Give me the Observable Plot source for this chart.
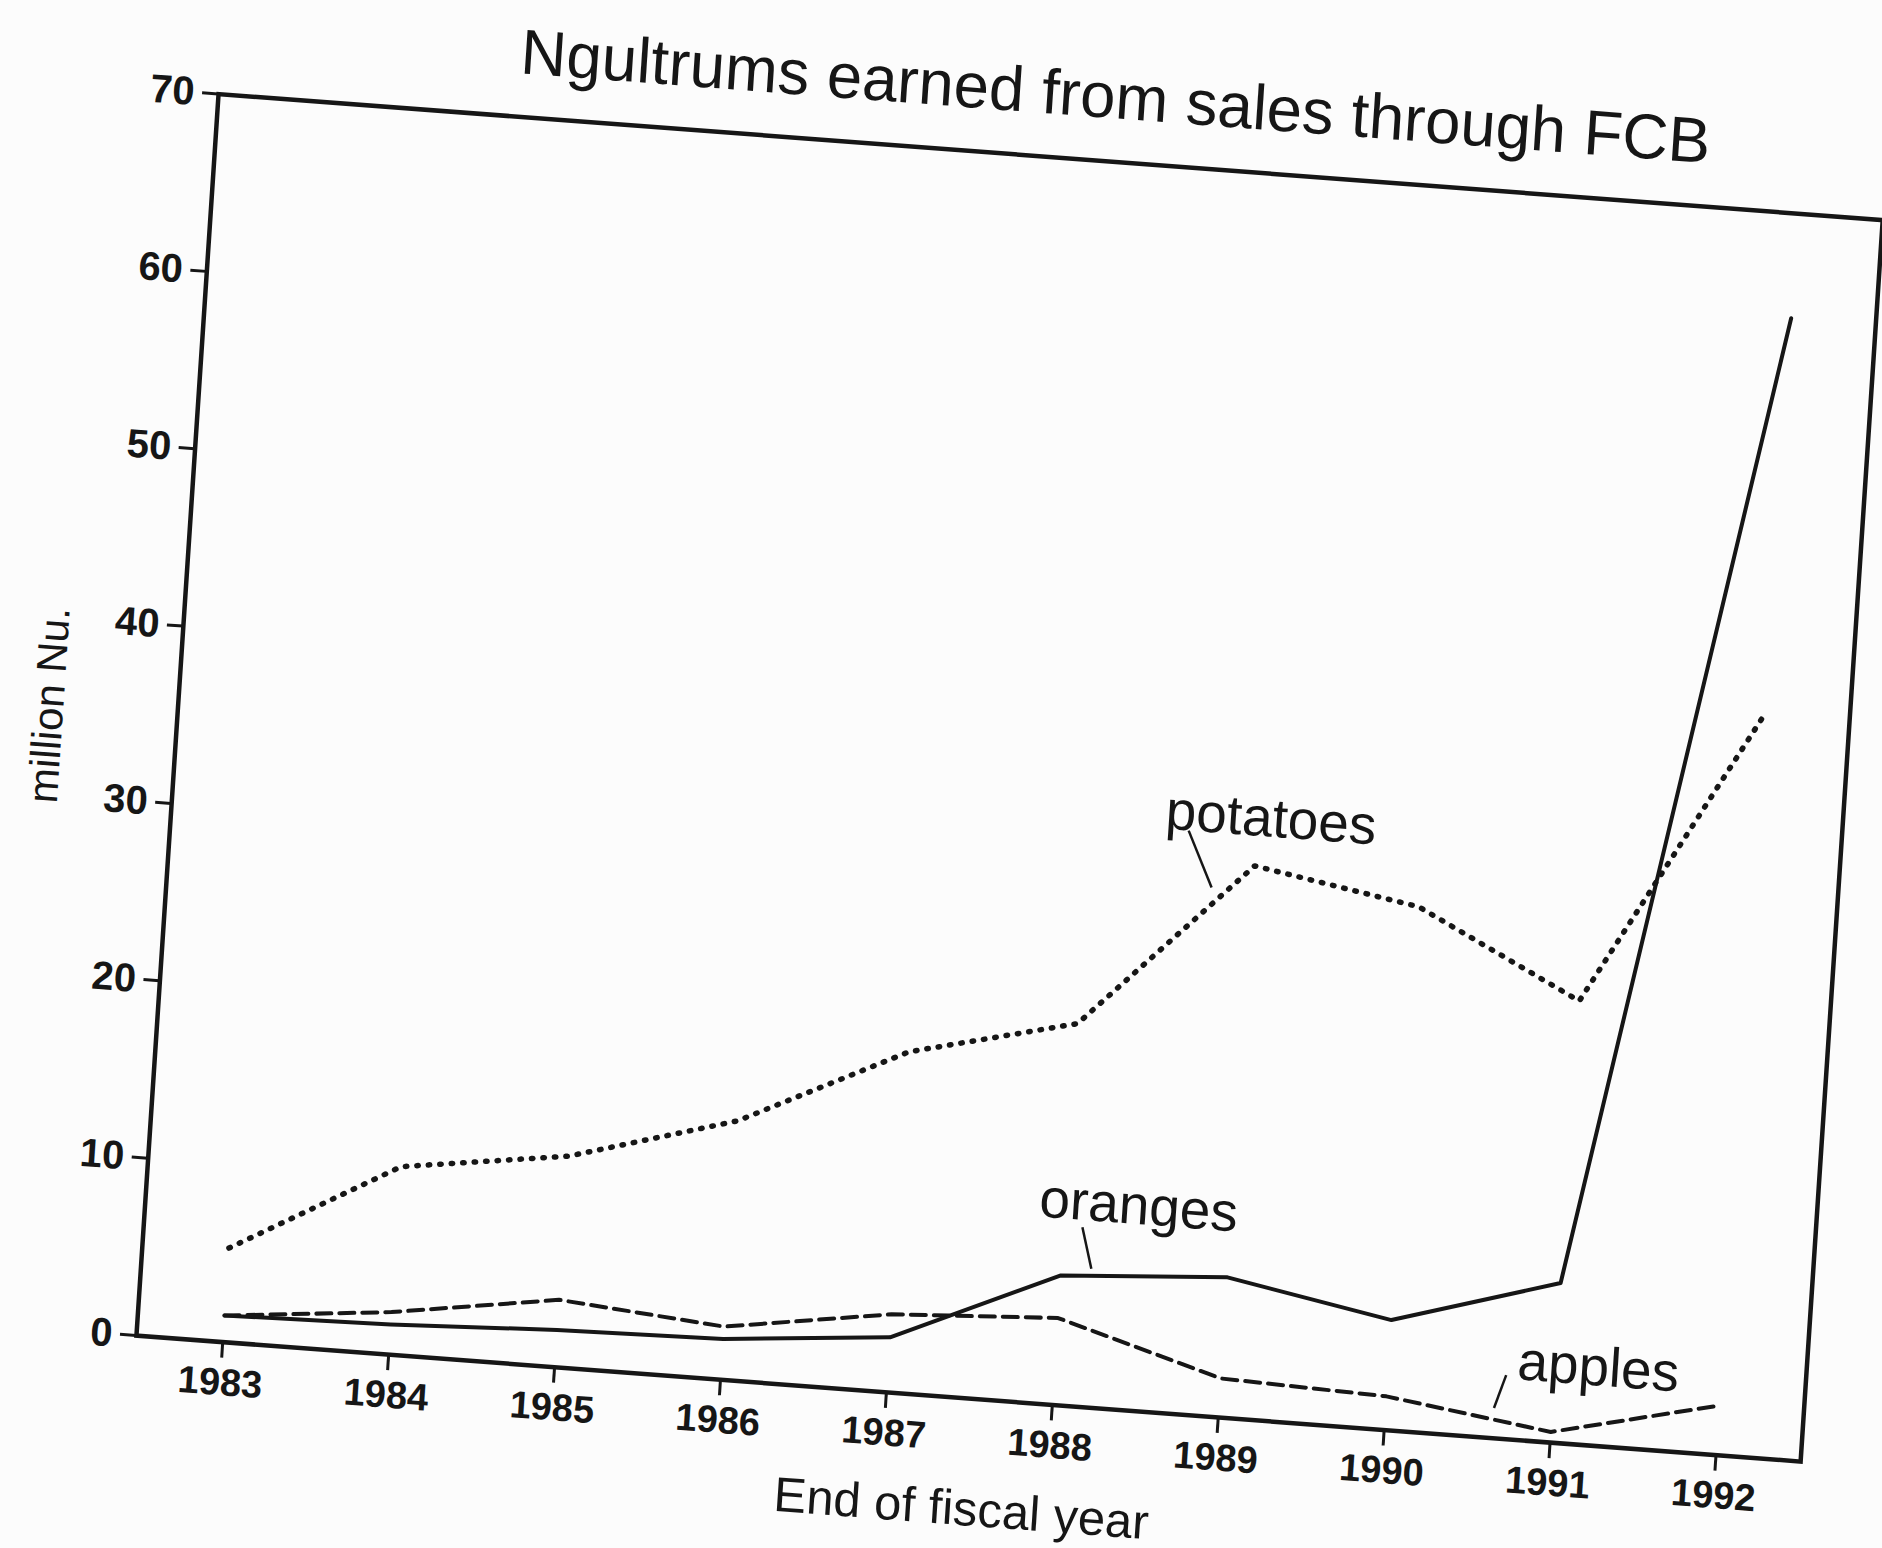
<!DOCTYPE html>
<html>
<head>
<meta charset="utf-8">
<script src="https://cdn.jsdelivr.net/npm/d3@7"></script>
<script src="https://cdn.jsdelivr.net/npm/@observablehq/plot@0.6"></script>
<style>
html, body { margin: 0; padding: 0; width: 1882px; height: 1548px; overflow: hidden; background: #fcfcfc; }
#page {
  position: absolute; left: 0; top: 0; width: 1882px; height: 1548px;
  transform-origin: 135.6px 1334.7px;
  transform: matrix(0.9971, 0.0755, -0.066, 0.998, 0, 0);
  font-family: "Liberation Sans", Arial, Helvetica, sans-serif;
  color: #161616;
}
#title { position: absolute; left: 232px; width: 1600px; top: -6px; text-align: center; font-size: 63.5px; line-height: 64px; }
#chart { position: absolute; left: -14.4px; top: 80.7px; }
</style>
</head>
<body>
<div id="page">
  <div id="title">Ngultrums earned from sales through FCB</div>
  <div id="chart"></div>
</div>
<script>
// ---- data ----
const years    = [1983, 1984, 1985, 1986, 1987, 1988, 1989, 1990, 1991, 1992];
const potatoes = [5.3, 10.6, 11.9, 14.6, 19.2, 21.5, 31.1, 29.5, 24.9, 41.8];
const oranges  = [1.5, 1.7, 2.1, 2.3, 3.1, 7.3, 7.9, 6.2, 9.0, 64.1];
const apples   = [1.5, 2.4, 3.8, 3.0, 4.4, 4.9, 2.2, 1.9, 0.6, 2.8];
const yTicks   = [0, 10, 20, 30, 40, 50, 60, 70];
const xTitle   = "End of fiscal year";
const yTitle   = "million Nu.";

// series labels and their leader lines (in data space)
const labelNames   = ["potatoes", "oranges", "apples"];
const labelYear    = [1989.08, 1988.44, 1991.26];
const labelValue   = [33.8, 11.5, 4.4];
const leaderYear1  = [1988.59, 1988.11, 1990.71];
const leaderValue1 = [32.8, 10.1, 3.6];
const leaderYear2  = [1988.75, 1988.18, 1990.65];
const leaderValue2 = [29.7, 7.8, 1.7];

const potatoRows = years.map((y, i) => ({year: y, value: potatoes[i]}));
const orangeRows = years.map((y, i) => ({year: y, value: oranges[i]}));
const appleRows  = years.map((y, i) => ({year: y, value: apples[i]}));
const labelRows  = labelNames.map((n, i) => ({name: n, year: labelYear[i], value: labelValue[i]}));
const leaderRows = labelNames.map((n, i) => ({x1: leaderYear1[i], y1: leaderValue1[i], x2: leaderYear2[i], y2: leaderValue2[i]}));

const ink = "#161616";

const chart = Plot.plot({
  width: 1849,
  height: 1414,
  marginLeft: 150,
  marginRight: 30,
  marginTop: 10,
  marginBottom: 160,
  style: {background: "transparent", fontFamily: "'Liberation Sans', Arial, Helvetica, sans-serif", color: ink, overflow: "visible"},
  x: {type: "linear", domain: [1982.48, 1992.51], label: null},
  y: {domain: [0, 70], label: null},
  marks: [
    Plot.axisX(years, {tickFormat: d => String(d), tickSize: 16, tickPadding: 10, fontSize: 38, fontWeight: "bold", strokeWidth: 3, stroke: ink}),
    Plot.axisY(yTicks, {tickSize: 16, tickPadding: 8, fontSize: 40, fontWeight: "bold", strokeWidth: 3, stroke: ink}),
    Plot.frame({stroke: ink, strokeWidth: 4.5}),
    Plot.text([xTitle], {frameAnchor: "bottom", dy: 111, lineAnchor: "middle", textAnchor: "middle", fontSize: 49, fill: ink}),
    Plot.text([yTitle], {frameAnchor: "left", dx: -128, rotate: -90, lineAnchor: "middle", textAnchor: "middle", fontSize: 42, fill: ink}),
    Plot.line(potatoRows, {x: "year", y: "value", stroke: ink, strokeWidth: 5.5, strokeDasharray: "1.5 10", strokeLinecap: "round"}),
    Plot.line(appleRows, {x: "year", y: "value", stroke: ink, strokeWidth: 4, strokeDasharray: "15 8"}),
    Plot.line(orangeRows, {x: "year", y: "value", stroke: ink, strokeWidth: 4}),
    Plot.link(leaderRows, {x1: "x1", y1: "y1", x2: "x2", y2: "y2", stroke: ink, strokeWidth: 2.5}),
    Plot.text(labelRows, {x: "year", y: "value", text: "name", fontSize: 55, lineAnchor: "middle", textAnchor: "middle", fill: ink})
  ]
});
document.getElementById("chart").appendChild(chart);
</script>
</body>
</html>
